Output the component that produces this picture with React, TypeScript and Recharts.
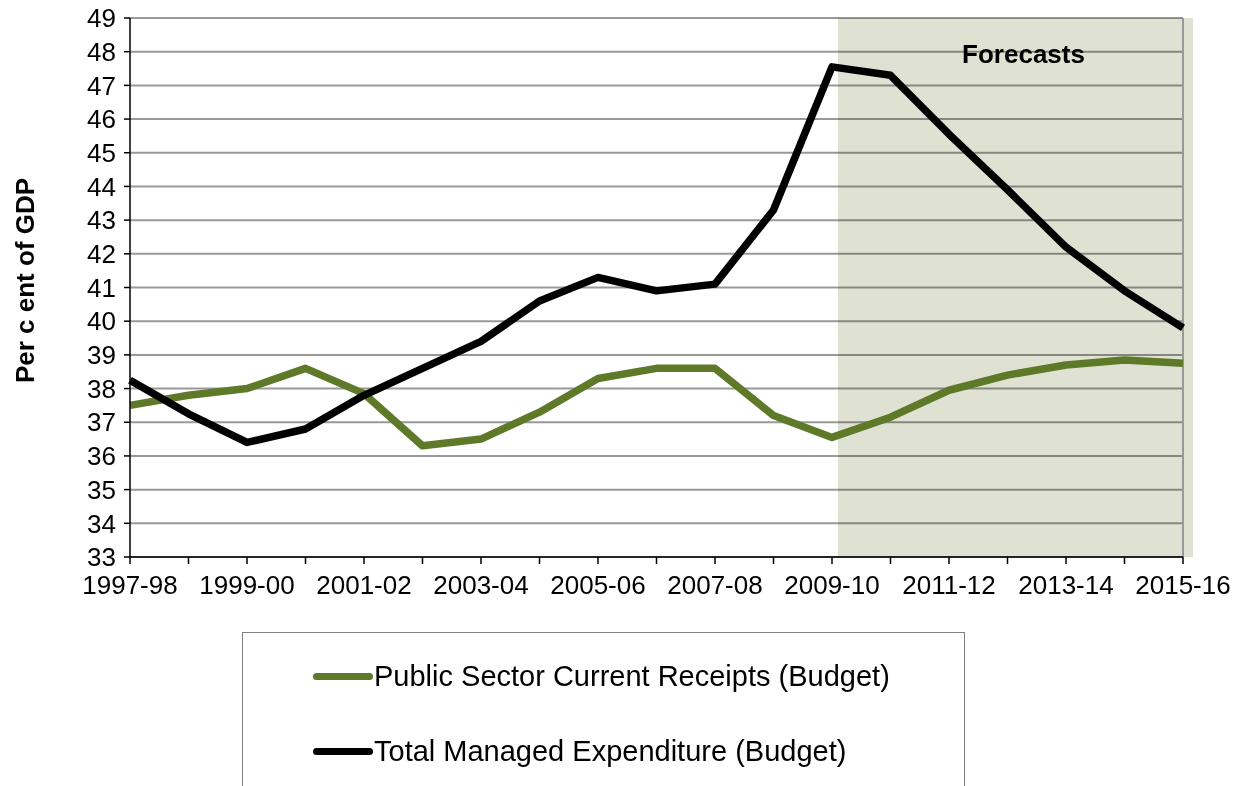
import {
  LineChart,
  Line,
  XAxis,
  YAxis,
  CartesianGrid,
  ReferenceArea,
  ReferenceLine,
  Legend,
} from 'recharts';

const years = [
  '1997-98', '1998-99', '1999-00', '2000-01', '2001-02', '2002-03', '2003-04',
  '2004-05', '2005-06', '2006-07', '2007-08', '2008-09', '2009-10', '2010-11',
  '2011-12', '2012-13', '2013-14', '2014-15', '2015-16',
];

const receipts = [
  37.5, 37.8, 38.0, 38.6, 37.85, 36.3, 36.5, 37.3, 38.3, 38.6, 38.6, 37.2, 36.55,
  37.15, 37.95, 38.4, 38.7, 38.85, 38.75,
];

const expenditure = [
  38.25, 37.25, 36.4, 36.8, 37.8, 38.6, 39.4, 40.6, 41.3, 40.9, 41.1, 43.3, 47.55,
  47.3, 45.55, 43.9, 42.2, 40.9, 39.8,
];

const yTicks = [33, 34, 35, 36, 37, 38, 39, 40, 41, 42, 43, 44, 45, 46, 47, 48, 49];

const forecastStart = '2009-10';
const forecastEnd = '2015-16';

const FONT = '"Liberation Sans", Arial, sans-serif';

const data = years.map((year, i) => ({
  year,
  receipts: receipts[i],
  expenditure: expenditure[i],
}));

// only every other year gets a label, but every year keeps its tick mark
function YearTick({ x, y, payload, index }: any) {
  if (index % 2 === 1) return null;
  return (
    <text x={x} y={y} dy="0.71em" textAnchor="middle" fontSize={26} fill="#000" fontFamily={FONT}>
      {payload.value}
    </text>
  );
}

function YLabel({ viewBox }: any) {
  const cx = viewBox.x + 34;
  const cy = viewBox.y + viewBox.height / 2 - 7;
  return (
    <text
      x={cx}
      y={cy}
      transform={`rotate(-90 ${cx} ${cy})`}
      textAnchor="middle"
      fontSize={26}
      fontWeight="bold"
      fill="#000"
      fontFamily={FONT}
    >
      Per c ent of GDP
    </text>
  );
}

function ForecastShade(props: any) {
  return (
    <rect
      x={props.x + 6}
      y={props.y}
      width={props.width + 4}
      height={props.height}
      fill="#dfe2d3"
      style={{ mixBlendMode: 'multiply' }}
    />
  );
}

function LegendBox({ payload }: any) {
  return (
    <div
      style={{
        boxSizing: 'border-box',
        width: 723,
        height: 160,
        border: '1px solid #808080',
        background: '#fff',
        position: 'relative',
        fontFamily: FONT,
      }}
    >
      {(payload || []).map((entry: any, i: number) => (
        <div
          key={entry.value}
          style={{
            position: 'absolute',
            left: 70,
            top: 23 + i * 75,
            height: 40,
            display: 'flex',
            alignItems: 'center',
            whiteSpace: 'nowrap',
          }}
        >
          <span
            style={{
              display: 'inline-block',
              width: 60,
              height: 7,
              borderRadius: 4,
              background: entry.color,
              marginRight: 1,
            }}
          />
          <span style={{ fontSize: 29, color: '#000' }}>{entry.value}</span>
        </div>
      ))}
    </div>
  );
}

export default function App() {
  return (
    <div style={{ width: 1238, height: 786, overflow: 'hidden', background: '#fff' }}>
      <style>{'body{margin:0}'}</style>
      <LineChart
        width={1238}
        height={786}
        data={data}
        margin={{ top: 18, right: 55, bottom: 24, left: 0 }}
      >
        <CartesianGrid vertical={false} stroke="#999999" strokeWidth={2} />
        <ReferenceArea
          x1={forecastStart}
          x2={forecastEnd}
          shape={ForecastShade}
          label={{
            value: 'Forecasts',
            position: 'insideTop',
            offset: 27,
            dx: 16,
            fontSize: 26,
            fontWeight: 'bold',
            fill: '#000',
            fontFamily: FONT,
          }}
        />
        <ReferenceLine x={forecastEnd} stroke="#999999" strokeWidth={2} />
        <XAxis
          dataKey="year"
          interval={0}
          height={45}
          tick={YearTick}
          tickSize={7}
          tickMargin={12}
          axisLine={{ stroke: '#000', strokeWidth: 1.5 }}
          tickLine={{ stroke: '#000', strokeWidth: 1.5 }}
        />
        <YAxis
          domain={[33, 49]}
          ticks={yTicks}
          interval={0}
          width={130}
          tickSize={6}
          tickMargin={8}
          tick={{ fontSize: 26, fill: '#000', fontFamily: FONT }}
          axisLine={{ stroke: '#000', strokeWidth: 1.5 }}
          tickLine={{ stroke: '#000', strokeWidth: 1.5 }}
          label={{ content: YLabel }}
        />
        <Legend
          content={LegendBox}
          wrapperStyle={{ left: 242, top: 632, width: 723 }}
        />
        <Line
          name="Public Sector Current Receipts (Budget)"
          dataKey="receipts"
          stroke="#5e7a29"
          strokeWidth={7.5}
          strokeLinejoin="round"
          dot={false}
          isAnimationActive={false}
        />
        <Line
          name="Total Managed Expenditure (Budget)"
          dataKey="expenditure"
          stroke="#000000"
          strokeWidth={7.5}
          strokeLinejoin="round"
          dot={false}
          isAnimationActive={false}
        />
      </LineChart>
    </div>
  );
}
